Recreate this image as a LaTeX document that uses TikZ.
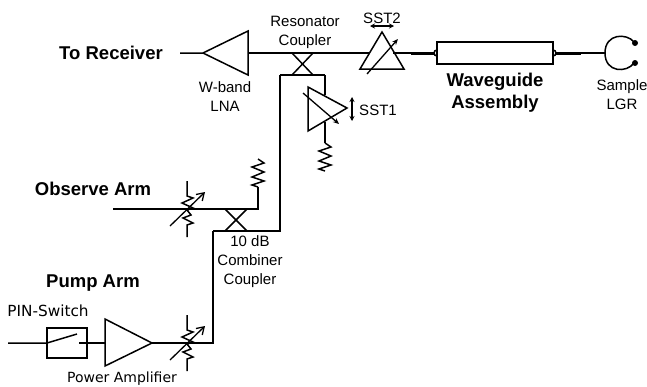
\documentclass[tikz,border=0pt]{standalone}
\usepackage{fontspec}
\setmainfont{Liberation Sans}
\newfontfamily\dejavu{DejaVu Sans}
\usetikzlibrary{arrows.meta}
\tikzset{
  part/.style={line width=1.5pt,line join=miter},
  thickline/.style={line width=3pt},
  tune/.style={line width=1.3pt,-{Stealth[length=6pt,width=5pt]}},
  tunetwo/.style={line width=1.3pt,{Stealth[length=5pt,width=5pt]}-{Stealth[length=5pt,width=5pt]}},
  title/.style={font=\bfseries\fontsize{18.5}{22}\selectfont,align=center},
  small/.style={font=\fontsize{15}{19}\selectfont,align=center},
  smalldv/.style={font=\dejavu\fontsize{15.3}{18}\selectfont,align=center},
  pics/resistor/.style={code={
    \draw[part] (0,0) -- (6,4) -- (-6,8) -- (6,13) -- (-6,18) -- (6,22) -- (-6,26) -- (0,28);
  }},
  pics/attenuator/.style={code={
    \draw[part] (0,-28) -- (0,-13) -- (6,-11) -- (-5,-6) -- (6,-1) -- (0,1) -- (4,6) -- (-4,9) -- (6,14) -- (0,16) -- (0,28);
    \draw[line width=1.3pt,-{Straight Barb[length=7pt,width=9pt]}] (-17,17) -- (18,-17);
  }}
}
\begin{document}
\begin{tikzpicture}[x=1pt,y=-1pt]

  \useasboundingbox (0,0) rectangle (647,386);

  % top line
  \coordinate (rxend) at (180,53);
  \coordinate (lnatip) at (203,53);
  \coordinate (lnaup) at (248,31);
  \coordinate (lnadown) at (248,75);
  \coordinate (lnaout) at (248,53);
  \coordinate (sstwoin) at (369,53);
  \coordinate (sstwoout) at (393,53);
  \coordinate (sstwotop) at (382,32);
  \coordinate (sstwol) at (360,69);
  \coordinate (sstwor) at (404,69);
  \coordinate (wgin) at (411,53);
  \coordinate (wgl) at (434,53);
  \coordinate (wgr) at (556,53);
  \coordinate (wgout) at (581,53);
  \coordinate (lgrin) at (605,53);

  \draw[part] (rxend) -- (lnatip) -- (lnaup) -- (lnadown) -- (lnatip);
  \draw[part] (lnaout) -- (sstwoin);
  \draw[part] (sstwotop) -- (sstwol) -- (sstwor) -- cycle;
  \draw[tune] (367,74) -- (398,39);
  \draw[tunetwo] (370,26) -- (394,26);
  \draw[part] (sstwoout) -- (wgin);
  \draw[thickline] (wgin) -- (wgl);
  \draw[thickline] (wgr) -- (wgout);
  \draw[part] (wgout) -- (lgrin);

  % waveguide and sample
  \draw[part] (437,53) circle (3);
  \draw[part] (553,53) circle (3);
  \draw[line width=2pt,fill=white] (437,42) rectangle (553,64);
  \draw[part] (634,42) .. controls (627,33) and (605,33) .. (lgrin) .. controls (605,73) and (627,73) .. (634,63);
  \fill (635,43) circle (3);
  \fill (635,63) circle (3);

  % resonator coupler
  \coordinate (rcl) at (292,53);
  \coordinate (rcr) at (313,53);
  \coordinate (rcdl) at (292,75);
  \coordinate (rcdr) at (313,75);
  \coordinate (rcend) at (325,75);
  \coordinate (rcin) at (280,75);
  \draw[part] (rcl) -- (rcdr);
  \draw[part] (rcr) -- (rcdl);
  \draw[part] (rcin) -- (rcend);

  % SST1
  \coordinate (sstonein) at (325,95);
  \coordinate (sstoneout) at (325,122);
  \coordinate (rbot) at (325,143);
  \draw[part] (rcend) -- (sstonein);
  \draw[part] (308,87) -- (347,108) -- (308,131) -- cycle;
  \draw[part] (sstoneout) -- (rbot);
  \draw[tune] (303,93) -- (339,124);
  \draw[tunetwo] (352,97) -- (352,121);
  \pic at (rbot) {resistor};

  % observe arm
  \coordinate (obsin) at (113,209);
  \coordinate (obsres) at (258,209);
  \coordinate (obsup) at (258,187);
  \coordinate (ccl) at (225,209);
  \coordinate (ccr) at (247,209);
  \coordinate (ccdl) at (225,231);
  \coordinate (ccdr) at (247,231);
  \draw[part] (obsin) -- (obsres) -- (obsup);
  \pic at (258,159) {resistor};
  \pic at (187,209) {attenuator};
  \draw[part] (ccl) -- (ccdr);
  \draw[part] (ccr) -- (ccdl);

  % line between the couplers
  \coordinate (ccin) at (213,231);
  \coordinate (ccout) at (280,231);
  \draw[part] (rcin) -- (ccout) -- (ccin);

  % pump arm
  \coordinate (pumpin) at (8,343);
  \coordinate (swin) at (47,343);
  \coordinate (swtip) at (77,334);
  \coordinate (swout) at (79,343);
  \coordinate (paup) at (105,319);
  \coordinate (padown) at (105,366);
  \coordinate (paout) at (105,343);
  \coordinate (patip) at (152,343);
  \coordinate (pumpend) at (213,343);
  \draw[part] (pumpin) -- (swin) -- (swtip);
  \draw[part] (swout) -- (paout);
  \draw[part] (47,328) rectangle (87,358);
  \draw[part] (paup) -- (patip) -- (padown) -- cycle;
  \draw[part] (patip) -- (pumpend) -- (ccin);
  \pic at (187,343) {attenuator};

  % labels
  \node[title] (rxlabel) at (111,53) {To Receiver};
  \node[title] (obslabel) at (93,189) {Observe Arm};
  \node[title] (pumplabel) at (93,283) {Pump Arm};
  \node[title] (wglabel) at (495,93) {Waveguide\\Assembly};
  \node[small] (lnalabel) at (225,97) {W-band\\LNA};
  \node[small] (rclabel) at (305,32) {Resonator\\Coupler};
  \node[small] (sstwolabel) at (382,18) {SST2};
  \node[small] (sstonelabel) at (378,110) {SST1};
  \node[small] (lgrlabel) at (622,95) {Sample\\LGR};
  \node[small] (cclabel) at (250,262) {10 dB\\Combiner\\Coupler};
  \node[smalldv] (pinlabel) at (48,311) {PIN-Switch};
  \node[font=\dejavu\fontsize{14}{17}\selectfont] (palabel) at (122,379) {Power Amplifier};

\end{tikzpicture}
\end{document}
